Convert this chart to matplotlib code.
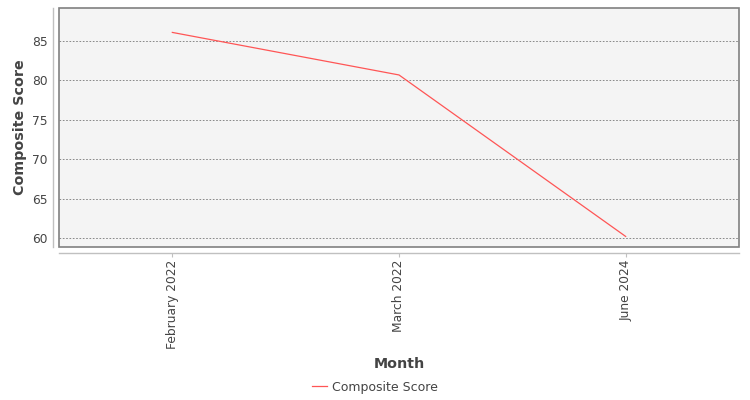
import matplotlib
matplotlib.use('Agg')
import matplotlib.pyplot as plt
from matplotlib.patches import Rectangle

months = ['February 2022', 'March 2022', 'June 2024']
scores = [86.1, 80.7, 60.2]

plt.rcParams['font.family'] = ['DejaVu Sans']
txt = '#444444'

fig = plt.figure(figsize=(7.5, 4), dpi=100)
ax = fig.add_axes([59 / 750, 1 - 247 / 400, 680 / 750, 239 / 400])
ax.set_facecolor('#f4f4f4')

x = list(range(len(months)))
ax.plot(x, scores, color='#ff5555', linewidth=0.9, label='Composite Score')

ax.set_xlim(-0.5, len(months) - 0.5)
ax.set_ylim(58.86, 89.2)
ax.set_yticks([60, 65, 70, 75, 80, 85])
ax.set_xticks(x)
ax.set_xticklabels(months)

ax.yaxis.grid(True, color='#777777', linestyle=(0, (2, 2)), linewidth=0.6)
ax.set_axisbelow(True)

for side in ['top', 'right']:
    ax.spines[side].set_visible(False)
for side in ['left', 'bottom']:
    ax.spines[side].set_position(('outward', 4))
    ax.spines[side].set_color('#c0c0c0')
    ax.spines[side].set_linewidth(1)

# plot frame
ax.add_patch(Rectangle((0, 0), 1, 1, transform=ax.transAxes, fill=False,
                       edgecolor='#808080', linewidth=1.2, clip_on=False, zorder=5))

ax.tick_params(axis='both', colors='#c0c0c0', labelcolor=txt, labelsize=8.8, length=3)
ax.tick_params(axis='x', labelrotation=90, pad=2)
ax.tick_params(axis='y', length=0, pad=4)

# axis titles placed like the reference
fig.text(20 / 750, 1 - 127.5 / 400, 'Composite Score', rotation=90, ha='center', va='center',
         fontsize=10.3, fontweight='bold', color=txt)
fig.text(399 / 750, 1 - 364 / 400, 'Month', ha='center', va='center',
         fontsize=10.3, fontweight='bold', color=txt)

fig.legend(loc='center', bbox_to_anchor=(0.5, 1 - 387 / 400), frameon=False,
           fontsize=9, labelcolor=txt, handlelength=1.2, handletextpad=0.4,
           borderpad=0, borderaxespad=0)

fig.savefig('out.png', dpi=100)
